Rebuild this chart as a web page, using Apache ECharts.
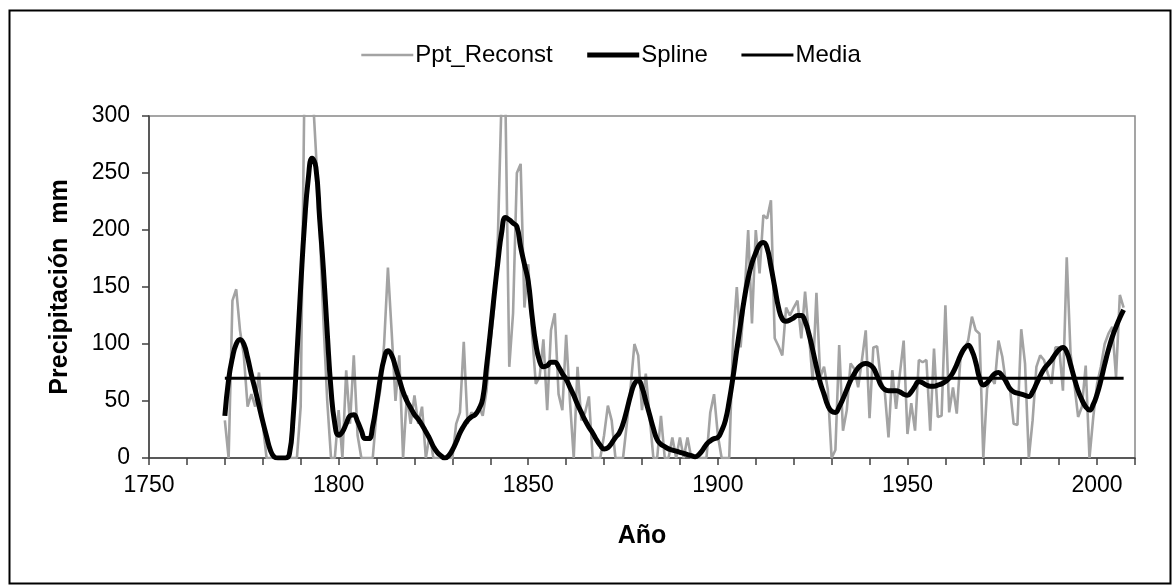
<!DOCTYPE html>
<html>
<head>
<meta charset="utf-8">
<script src="https://cdn.jsdelivr.net/npm/echarts@6/dist/echarts.min.js"></script>
<style>
html,body{margin:0;padding:0;background:#fff;}
#chart{width:1174px;height:586px;}
</style>
</head>
<body>
<div id="chart"></div>
<script>
// ---- data ----
const firstYear = 1770;
const pptReconst = [
  33, 0, 138, 148, 112, 90, 45, 56, 45, 75,
  30, 0, 0, 0, 0, 0, 0, 0, 0, 0,
  45, 330, 350, 330, 270, 200, 120, 50, 0, 0,
  42, 0, 77, 30, 90, 20, 0, 0, 0, 0,
  40, 60, 100, 167, 110, 50, 90, 0, 55, 30,
  55, 30, 45, 0, 20, 0, 0, 0, 0, 0,
  0, 30, 40, 102, 30, 40, 37, 45, 37, 59,
  100, 132, 194, 320, 310, 80, 127, 250, 258, 132,
  170, 110, 65, 71, 104, 42, 112, 127, 56, 42,
  108, 50, 0, 80, 33, 40, 54, 0, 0, 0,
  20, 46, 33, 0, 0, 0, 30, 62, 100, 90,
  42, 74, 37, 0, 0, 37, 0, 0, 18, 0,
  18, 0, 18, 0, 0, 0, 0, 0, 40, 56,
  20, 0, 0, 0, 103, 150, 97, 140, 200, 118,
  200, 162, 213, 210, 226, 105, 98, 90, 132, 125,
  132, 138, 105, 146, 109, 68, 145, 71, 80, 60,
  0, 7, 99, 24, 42, 83, 78, 62, 86, 112,
  35, 97, 98, 68, 59, 18, 77, 43, 74, 103,
  21, 48, 24, 86, 84, 86, 24, 96, 36, 37,
  134, 40, 62, 39, 89, 95, 103, 124, 112, 109,
  0, 61, 71, 65, 103, 89, 65, 62, 30, 29,
  113, 83, 0, 33, 80, 90, 86, 74, 65, 97,
  97, 59, 176, 92, 65, 36, 45, 81, 0, 36,
  65, 80, 100, 109, 115, 71, 143, 132
];
const splineValues = [
  37, 69, 88, 100, 104, 100, 88, 73, 60, 46,
  32, 19, 7, 1, 0, 0, 0, 3, 35, 90,
  150, 205, 245, 263, 255, 210, 165, 110, 60, 30,
  20, 23, 30, 37, 38, 32, 24, 17, 17, 28,
  48, 70, 87, 94, 90, 80, 69, 58, 50, 44,
  38, 34, 29, 23, 17, 10, 5, 2, 0, 2,
  7, 14, 22, 28, 33, 36, 38, 43, 52, 80,
  110, 142, 172, 198, 211, 209, 206, 203, 185, 170,
  155, 125, 100, 85, 80, 81, 84, 84, 80, 74,
  69, 62, 55, 47, 40, 33, 27, 22, 16, 11,
  8, 9, 13, 18, 22, 30, 42, 55, 65, 68,
  62, 50, 38, 26, 16, 12, 10, 8, 7, 6,
  5, 4, 3, 2, 1, 3, 7, 12, 15, 17,
  18, 24, 33, 50, 71, 95, 118, 140, 158, 171,
  180, 187, 189, 184, 168, 150, 132, 122, 120, 121,
  123, 125, 125, 120, 109, 95, 80, 66, 56, 46,
  41, 40, 45, 52, 60, 68, 74, 79, 82, 83,
  82, 79, 72, 64, 60, 59, 59, 59, 58, 56,
  55, 58, 63, 67, 66, 64, 63, 63, 64, 65,
  67, 70, 75, 82, 90, 96, 99, 94, 84, 70,
  64, 66, 70, 74, 75, 72, 67, 61, 58, 57,
  56, 55, 54, 58, 65, 72, 78, 82, 86, 91,
  95, 97, 93, 82, 70, 59, 51, 45, 42, 47,
  56, 68, 82, 95, 106, 115, 123, 130
];
const mediaValue = 70;
const xTickLabels = [1750, 1800, 1850, 1900, 1950, 2000];
const seriesNames = ['Ppt_Reconst', 'Spline', 'Media'];

// ---- build ----
const years = pptReconst.map((_, i) => firstYear + i);
const pptData = years.map((y, i) => [y, pptReconst[i]]);
const splineData = years.map((y, i) => [y, splineValues[i]]);
const mediaData = [[years[0], mediaValue], [years[years.length - 1], mediaValue]];

const FONT = 'Liberation Sans, Arial, sans-serif';
const styles = [
  {color: '#a3a3a3', width: 2.6},
  {color: '#000', width: 5},
  {color: '#000', width: 3}
];
const chart = echarts.init(document.getElementById('chart'), null, {renderer: 'canvas'});
chart.setOption({
  animation: false,
  backgroundColor: '#fff',
  graphic: [{
    type: 'rect',
    left: 7, top: 8,
    shape: {width: 1161, height: 573},
    style: {fill: 'none', stroke: '#000', lineWidth: 2},
    silent: true
  }],
  legend: {
    data: seriesNames.map((n, i) => ({
      name: n,
      lineStyle: {color: styles[i].color, width: styles[i].width},
      itemStyle: {opacity: 0}
    })),
    left: 355, top: 38,
    itemWidth: 52, itemHeight: 14, itemGap: 32,
    itemStyle: {opacity: 0},
    textStyle: {fontFamily: FONT, fontSize: 24, color: '#000', padding: [0, 0, 0, -3]}
  },
  grid: {
    left: 149, top: 116, width: 986, height: 342,
    show: true, borderColor: '#888', borderWidth: 1.5, backgroundColor: 'transparent'
  },
  xAxis: {
    type: 'value', min: 1750, max: 2010, interval: 10,
    name: 'Año', nameLocation: 'middle', nameGap: 66,
    nameTextStyle: {fontFamily: FONT, fontSize: 25, fontWeight: 'bold', color: '#000'},
    axisLine: {show: true, lineStyle: {color: '#404040', width: 1.5}},
    axisTick: {show: true, inside: false, length: 7, lineStyle: {color: '#404040', width: 1.5}},
    splitLine: {show: false},
    axisLabel: {
      fontFamily: FONT, fontSize: 23, color: '#000', margin: 16,
      formatter: v => (xTickLabels.indexOf(v) >= 0 ? String(v) : '')
    }
  },
  yAxis: {
    type: 'value', min: 0, max: 300, interval: 50,
    name: 'Precipitación  mm', nameLocation: 'middle', nameGap: 76, nameRotate: 90,
    nameTextStyle: {fontFamily: FONT, fontSize: 25, fontWeight: 'bold', color: '#000'},
    axisLine: {show: true, lineStyle: {color: '#404040', width: 1.5}},
    axisTick: {show: true, inside: false, length: 7, lineStyle: {color: '#404040', width: 1.5}},
    splitLine: {show: false},
    axisLabel: {fontFamily: FONT, fontSize: 23, color: '#000', margin: 19}
  },
  series: [
    {
      name: seriesNames[0], type: 'line', data: pptData, symbol: 'none', clip: true,
      lineStyle: styles[0], itemStyle: {color: styles[0].color}, z: 1
    },
    {
      name: seriesNames[1], type: 'line', data: splineData, symbol: 'none', smooth: true, clip: true,
      lineStyle: styles[1], itemStyle: {color: styles[1].color}, z: 3
    },
    {
      name: seriesNames[2], type: 'line', data: mediaData, symbol: 'none', clip: true,
      lineStyle: styles[2], itemStyle: {color: styles[2].color}, z: 2
    }
  ]
});
</script>
</body>
</html>
